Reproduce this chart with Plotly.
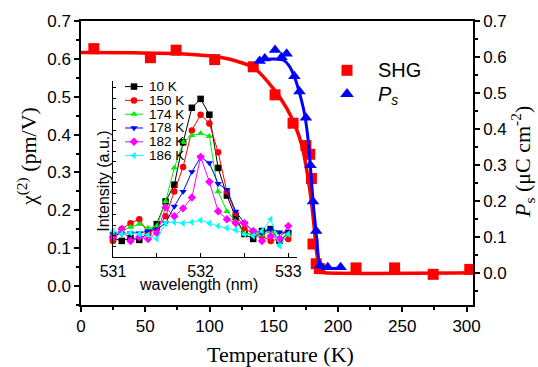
import plotly.graph_objects as go

# ---------------- data ----------------
# main panel: SHG susceptibility (left axis) and polarization (right axis)
shg_T = [10, 54, 74, 104, 134, 151, 165, 175, 178, 179.3, 180.5, 183, 185.5, 214, 244, 274, 302.5]
shg_chi = [0.627, 0.603, 0.623, 0.598, 0.579, 0.505, 0.430, 0.371, 0.348, 0.284, 0.111, 0.059,
           0.046, 0.048, 0.048, 0.031, 0.044]
shg_fit_T = [0, 40, 80, 100, 120, 135, 150, 160, 167, 172, 176, 179, 181, 183, 185, 187, 190, 305]
shg_fit_chi = [0.617, 0.616, 0.613, 0.608, 0.595, 0.575, 0.52, 0.47, 0.42, 0.37, 0.30, 0.23,
               0.17, 0.10, 0.055, 0.038, 0.035, 0.035]

ps_T = [139, 143, 151, 156, 160, 166, 170, 175, 178.5, 180.5, 183, 186, 192, 202]
ps_P = [0.589, 0.596, 0.619, 0.599, 0.609, 0.546, 0.504, 0.431, 0.299, 0.198, 0.116, 0.020,
        0.015, 0.015]
ps_fit_T = [137, 150, 158, 162, 166, 170, 174, 177, 179, 181, 183, 184.5, 186, 190, 202]
ps_fit_P = [0.592, 0.594, 0.59, 0.575, 0.545, 0.50, 0.44, 0.36, 0.27, 0.18, 0.11, 0.05,
            0.015, 0.012, 0.012]

# inset: SHG spectra
wavelength = [531.0, 531.1, 531.2, 531.3, 531.4, 531.5, 531.6, 531.7, 531.8, 531.9, 532.0,
              532.1, 532.2, 532.3, 532.4, 532.5, 532.6, 532.7, 532.8, 532.9, 533.0]
inset_labels = ["10 K", "150 K", "174 K", "178 K", "182 K", "186 K"]
int_10K = [19, 16, 19, 17, 24, 33, 56, 73, 116, 151, 160, 144, 90, 62, 40, 23, 18, 26, 28, 16, 24]
int_150K = [16, 28, 34, 38, 24, 28, 41, 66, 91, 128, 144, 135, 106, 66, 44, 28, 24, 21, 16, 18, 18]
int_174K = [24, 26, 30, 33, 29, 31, 56, 90, 116, 123, 125, 122, 66, 46, 36, 23, 24, 22, 26, 24, 23]
int_178K = [23, 23, 24, 24, 26, 28, 34, 51, 66, 86, 101, 95, 74, 68, 46, 34, 26, 24, 28, 25, 24]
int_182K = [20, 28, 16, 20, 18, 24, 50, 41, 49, 60, 101, 76, 46, 38, 34, 34, 26, 16, 21, 18, 31]
int_186K = [26, 23, 24, 23, 22, 18, 34, 35, 34, 35, 37, 34, 31, 29, 27, 23, 21, 26, 38, 11, 23]
inset_series = [int_10K, int_150K, int_174K, int_178K, int_182K, int_186K]

# ---------------- styles ----------------
inset_colors = ["#000000", "#FF0000", "#00EE00", "#0000FF", "#FF00FF", "#00FFFF"]
inset_symbols = ["square", "circle", "triangle-up", "triangle-down", "diamond", "triangle-left"]
SANS = "Liberation Sans, Arial, sans-serif"
SERIF = "Liberation Serif, Times New Roman, serif"

W, H = 538, 367
L, R, T, B = 81, 473, 17, 305  # plot area in pixels


def px(x):
    return (x - L) / (R - L)


def py(y):
    return (B - y) / (B - T)


fig = go.Figure()

# main curves
fig.add_trace(go.Scatter(x=shg_fit_T, y=shg_fit_chi, mode="lines", line=dict(color="#FF0000", width=3.5, shape="spline", smoothing=0.6),
                         xaxis="x", yaxis="y", showlegend=False, hoverinfo="skip"))
fig.add_trace(go.Scatter(x=shg_T, y=shg_chi, mode="markers", marker=dict(symbol="square", size=11, color="#FF0000"),
                         xaxis="x", yaxis="y", showlegend=False))
fig.add_trace(go.Scatter(x=ps_fit_T, y=ps_fit_P, mode="lines", line=dict(color="#0000FF", width=3, shape="spline", smoothing=0.6),
                         xaxis="x", yaxis="y2", showlegend=False, hoverinfo="skip"))
fig.add_trace(go.Scatter(x=ps_T, y=ps_P, mode="markers", marker=dict(symbol="triangle-up", size=11, color="#0000FF"),
                         xaxis="x", yaxis="y2", showlegend=False))

# inset spectra
for lab, vals, c, s in zip(inset_labels, inset_series, inset_colors, inset_symbols):
    fig.add_trace(go.Scatter(x=wavelength, y=vals, mode="lines+markers", name=lab,
                             line=dict(color=c, width=1), marker=dict(symbol=s, size=6.5, color=c),
                             xaxis="x3", yaxis="y3", showlegend=False, cliponaxis=False))

# legend keys drawn on a pixel overlay axis
annotations = []
row0, rowstep = 83.5, 14.0
for i, (lab, c, s) in enumerate(zip(inset_labels, inset_colors, inset_symbols)):
    r = row0 + rowstep * i
    fig.add_trace(go.Scatter(x=[125, 134, 143], y=[r, r, r], mode="lines+markers",
                             line=dict(color=c, width=1),
                             marker=dict(symbol=s, size=6.5, color=c, opacity=[0, 1, 0]),
                             xaxis="x4", yaxis="y4", showlegend=False, cliponaxis=False, hoverinfo="skip"))
    annotations.append(dict(x=px(147), y=py(r), xref="paper", yref="paper", text=lab, showarrow=False,
                            xanchor="left", yanchor="middle", font=dict(family=SANS, size=13.5, color="black")))

fig.add_trace(go.Scatter(x=[347], y=[67], mode="markers", marker=dict(symbol="square", size=11, color="#FF0000"),
                         xaxis="x4", yaxis="y4", showlegend=False, cliponaxis=False, hoverinfo="skip"))
fig.add_trace(go.Scatter(x=[347], y=[91], mode="markers", marker=dict(symbol="triangle-up", size=12, color="#0000FF"),
                         xaxis="x4", yaxis="y4", showlegend=False, cliponaxis=False, hoverinfo="skip"))

annotations += [
    dict(x=px(376), y=py(67), text="SHG", xanchor="left", yanchor="middle",
         font=dict(family=SANS, size=20, color="black")),
    dict(x=px(376), y=py(93), text="<i>P</i><sub><i>s</i></sub>", xanchor="left", yanchor="middle",
         font=dict(family=SANS, size=20, color="black")),
    dict(x=px(198), y=py(284), text="wavelength (nm)", xanchor="center", yanchor="middle",
         font=dict(family=SANS, size=16, color="black")),
    dict(x=px(104), y=py(180), text="Intensity (a.u.)", textangle=-90, xanchor="center", yanchor="middle",
         font=dict(family=SANS, size=16, color="black")),
    dict(x=px(280), y=py(355), text="Temperature (K)", xanchor="center", yanchor="middle",
         font=dict(family=SERIF, size=22, color="black")),
    dict(x=px(27), y=py(155), text="χ<sup>(2)</sup> (pm/V)", textangle=-90, xanchor="center", yanchor="middle",
         font=dict(family=SERIF, size=22, color="black")),
    dict(x=px(522), y=py(160), text="<i>P</i><sub>s</sub> (μC cm<sup>-2</sup>)", textangle=-90,
         xanchor="center", yanchor="middle", font=dict(family=SERIF, size=22, color="black")),
]
for a in annotations:
    a.setdefault("xref", "paper")
    a.setdefault("yref", "paper")
    a.setdefault("showarrow", False)

tickfont = dict(family=SANS, size=17, color="black")
axis_common = dict(showline=True, linecolor="black", linewidth=1.5, showgrid=False, zeroline=False,
                   ticks="outside", ticklen=5, tickwidth=1.5, tickcolor="black", tickfont=tickfont)

fig.update_layout(
    width=W, height=H,
    margin=dict(l=L, r=W - R, t=T, b=H - B, pad=0),
    paper_bgcolor="white", plot_bgcolor="rgba(0,0,0,0)",
    showlegend=False,
    xaxis=dict(domain=[0, 1], range=[0, 305], dtick=50, tick0=0, mirror=True, anchor="y",
               minor=dict(dtick=25, ticks="outside", ticklen=3, tickcolor="black"), **axis_common),
    yaxis=dict(domain=[0, 1], range=[-0.05, 0.7], dtick=0.1, tick0=0, tickformat=".1f", anchor="x",
               minor=dict(dtick=0.05, ticks="outside", ticklen=3, tickcolor="black"), **axis_common),
    yaxis2=dict(overlaying="y", side="right", range=[-0.09, 0.7], dtick=0.1, tick0=0, tickformat=".1f", anchor="x",
                minor=dict(dtick=0.05, ticks="outside", ticklen=3, tickcolor="black"), **axis_common),
    xaxis3=dict(domain=[px(113), px(297)], anchor="y3", range=[531, 533.1], dtick=1, tick0=531,
                showline=True, linecolor="black", linewidth=1.2, showgrid=False, zeroline=False,
                ticks="inside", ticklen=4, tickcolor="black", ticklabelstandoff=0,
                tickfont=dict(family=SANS, size=16, color="black"),
                minor=dict(dtick=0.5, ticks="inside", ticklen=4, tickcolor="black")),
    yaxis3=dict(domain=[py(256), py(78)], anchor="x3", range=[0, 178], dtick=10.7, tick0=0,
                showline=True, linecolor="black", linewidth=1.2, showgrid=False, zeroline=False,
                ticks="inside", ticklen=3, tickcolor="black", showticklabels=False),
    xaxis4=dict(overlaying="x", range=[L, R], visible=False, anchor="y4"),
    yaxis4=dict(overlaying="y", range=[B, T], visible=False, anchor="x4"),
    annotations=annotations,
)

fig.write_html("out.html", config={"displayModeBar": False},
               post_script="document.body.style.margin='0';")
